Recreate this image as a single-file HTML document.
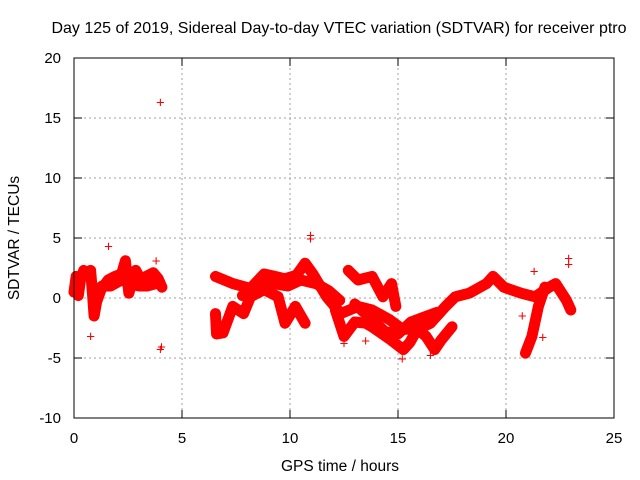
<!DOCTYPE html>
<html><head><meta charset="utf-8"><style>
html,body{margin:0;padding:0;background:#fff}
svg{display:block;font-family:"Liberation Sans",sans-serif}
</style></head><body>
<svg id="chart" width="640" height="480">
<text x="339" y="33" text-anchor="middle" font-size="16">Day 125 of 2019, Sidereal Day-to-day VTEC variation (SDTVAR) for receiver ptro</text>
<text x="340" y="471" text-anchor="middle" font-size="15.5">GPS time / hours</text>
<text transform="translate(19,238) rotate(-90)" text-anchor="middle" font-size="15.5">SDTVAR / TECUs</text>
<g id="grid"></g>
<g id="ticks"></g>
<g id="marks"></g>
<rect x="74" y="58" width="540" height="360" fill="none" stroke="#000" stroke-width="1"/>
</svg>
<script>
const xTicks=[0,5,10,15,20,25];
const yTicks=[-10,-5,0,5,10,15,20];
const trackA=[[0,0.5],[0.1,1.8],[0.2,0.2],[0.3,1.5],[0.45,2.3]];
const trackB=[[0.77,2.3],[0.85,0.5],[0.93,-1.5],[1.05,-0.3],[1.25,0.7],[1.58,1.5],[1.9,1.8],[2.2,2],[2.38,3.1],[2.54,0.4],[2.86,2.3],[3.1,1.5],[3.34,1.8],[3.67,2.1],[3.9,1.6],[4.07,0.9]];
const trackB2=[[0.9,0.3],[1.3,1.0],[1.7,1.0],[2.2,1.5],[2.6,1.2],[3.0,1.0],[3.4,1.0],[3.8,1.2]];
const trackC=[[6.55,1.8],[7.35,1.2],[8.17,0.8],[8.8,2],[9.3,1.8],[9.77,1.6],[10.3,1.9],[10.7,2.9],[11.06,2],[11.7,0.1],[12.35,-1.3],[13.15,-0.7],[13.8,-1],[14.6,-1.8],[15.2,-2.6],[15.9,-2.6],[16.5,-2.1],[17.2,-0.7],[17.65,0.1],[18.3,0.4],[19.1,1.2],[19.4,1.8],[19.9,0.9],[20.7,0.4],[21.35,0.1],[22,0.9],[22.3,1.2],[22.8,-0.2],[23.0,-1]];
const trackD=[[6.55,-1.3],[6.6,-3],[6.9,-2.9],[7.35,-0.7],[7.85,-1.3],[8.17,0.1],[8.8,0.7],[9.45,0.1],[9.77,-2.1],[10.25,-0.7],[10.7,-2.1]];
const trackD2=[[7.8,0.2],[8.4,1.0],[9.2,1.2],[9.9,1.0],[10.5,1.5],[11.2,1.2],[11.8,0.6],[12.3,-0.2]];
const trackE=[[12.1,-1],[12.5,-3.2],[13.0,-2.0],[13.5,-2.1],[13.8,-2.4],[14.6,-3.4],[15.25,-4.3],[15.55,-3.7],[15.9,-2.6],[16.3,-3.2],[16.7,-4.3],[17.0,-3.5],[17.5,-2.4]];
const trackE2=[[13.0,-0.5],[13.8,-1.8],[14.4,-2.8],[15.0,-3.0],[15.6,-2.0],[16.2,-1.6],[16.8,-1.2]];
const trackF=[[12.7,2.3],[13.15,1.5],[13.8,1.8],[14.3,0.1],[14.7,1.2],[14.9,-0.7]];
const trackG=[[20.9,-4.6],[21.2,-3.2],[21.5,-0.7],[21.8,0.9]];
const outliers=[[4,16.3],[4,-4.3],[4.05,-4.1],[10.95,5.2],[10.95,4.9],[21.3,2.2],[20.75,-1.5],[21.7,-3.3],[1.6,4.3],[22.9,3.3],[22.9,2.8],[15.2,-5.1],[0.77,-3.2],[3.8,3.1],[12.5,-3.8],[13.5,-3.6],[16.5,-4.8]];
const tracks=[trackA,trackB,trackB2,trackC,trackD,trackD2,trackE,trackE2,trackF,trackG];

const NS="http://www.w3.org/2000/svg";
const xS=v=>74+(v-0)*540/25;
const yS=v=>418-(v+10)*360/30;
function mk(tag,attrs,parent){const e=document.createElementNS(NS,tag);for(const k in attrs)e.setAttribute(k,attrs[k]);parent.appendChild(e);return e;}
const grid=document.getElementById('grid'),ticks=document.getElementById('ticks'),marks=document.getElementById('marks');
xTicks.forEach(t=>{const x=xS(t);
 if(t>0&&t<25){const l=mk('line',{x1:x,x2:x,y1:58,y2:418,stroke:'#a0a0a0','stroke-dasharray':'2,3'},grid);}
 mk('line',{x1:x,x2:x,y1:418,y2:410,stroke:'#000'},ticks);mk('line',{x1:x,x2:x,y1:58,y2:66,stroke:'#000'},ticks);
 const tx=mk('text',{x:x,y:443,'text-anchor':'middle','font-size':'15'},ticks);tx.textContent=t;
 });
yTicks.forEach(t=>{const y=yS(t);
 if(t>-10&&t<20){const l=mk('line',{x1:74,x2:614,y1:y,y2:y,stroke:'#a0a0a0','stroke-dasharray':'2,3'},grid);}
 mk('line',{x1:74,x2:82,y1:y,y2:y,stroke:'#000'},ticks);mk('line',{x1:606,x2:614,y1:y,y2:y,stroke:'#000'},ticks);
 const tx=mk('text',{x:61,y:y+5,'text-anchor':'end','font-size':'15'},ticks);tx.textContent=t;
 });
tracks.forEach(tr=>{
 const p=mk('polyline',{points:tr.map(d=>xS(d[0])+','+yS(d[1])).join(' '),fill:'none',stroke:'#ff0000','stroke-width':'11','stroke-linejoin':'round','stroke-linecap':'round'},marks);
 
 
 tr.forEach(d=>{const t=mk('text',{x:xS(d[0]),y:yS(d[1])+5,'text-anchor':'middle','font-size':'15',fill:'#ff0000'},marks);t.textContent='+';});
});
outliers.forEach(d=>{const t=mk('text',{x:xS(d[0]),y:yS(d[1])+5,'text-anchor':'middle','font-size':'15',fill:'#ff0000'},marks);t.textContent='+';
 
 });
</script>
</body></html>
